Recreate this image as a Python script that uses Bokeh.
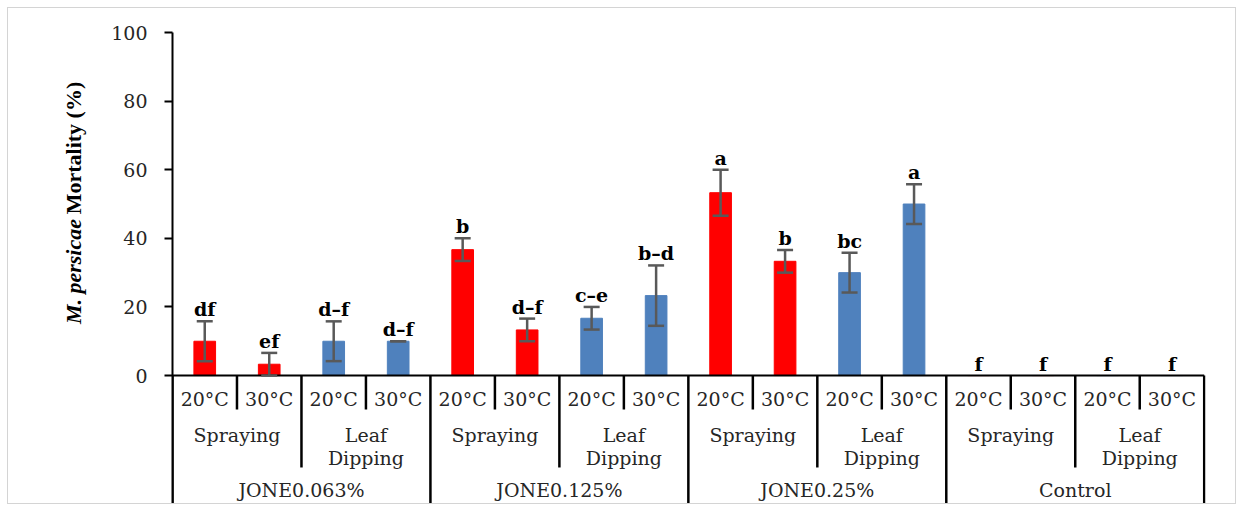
import math
from bokeh.plotting import figure
from bokeh.layouts import row
from bokeh.models import Range1d, FixedTicker, ColumnDataSource, Whisker, TeeHead
from bokeh.core.properties import value
from bokeh.embed import file_html
from bokeh.resources import INLINE

# ---- data ----
concentrations = ["JONE0.063%", "JONE0.125%", "JONE0.25%", "Control"]
methods = ["Spraying", "Leaf\nDipping"]
temperatures = ["20°C", "30°C"]
mortality = [10.0, 3.3, 10.0, 10.0,
             36.7, 13.3, 16.7, 23.3,
             53.3, 33.3, 30.0, 50.0,
             0.0, 0.0, 0.0, 0.0]
std_err = [5.8, 3.3, 5.8, 0.0,
           3.3, 3.3, 3.3, 8.8,
           6.7, 3.3, 5.8, 5.8,
           0.0, 0.0, 0.0, 0.0]
letters = ["df", "ef", "d–f", "d–f",
           "b", "d–f", "c–e", "b–d",
           "a", "b", "bc", "a",
           "f", "f", "f", "f"]
y_title_italic = "M. persicae"
y_title_rest = "Mortality (%)"
method_colors = {"Spraying": "#FF0000", "Leaf\nDipping": "#4F81BD"}
y_ticks = [0, 20, 40, 60, 80, 100]

# ---- derived positions ----
n_t = len(temperatures)
n_m = len(methods)
n_c = len(concentrations)
n = n_t * n_m * n_c
xs, colors = [], []
for ci in range(n_c):
    for mi in range(n_m):
        for ti in range(n_t):
            xs.append(ci * n_m * n_t + mi * n_t + ti + 0.5)
            colors.append(method_colors[methods[mi]])
tops = [m + e for m, e in zip(mortality, std_err)]

Y_MIN = -37.3
H = 495
TOP = 24
yr = Range1d(Y_MIN, 100)

# ---- left strip holding the y-axis title ----
LW = 90
left = figure(width=LW, height=H, output_backend="svg", toolbar_location=None,
              x_range=Range1d(0, LW), y_range=yr,
              x_axis_location=None, y_axis_location=None,
              min_border_left=0, min_border_right=0,
              min_border_top=TOP, min_border_bottom=0)
left.outline_line_color = None
left.xgrid.visible = False
left.ygrid.visible = False
left.text(x=[65], y=[15.0], text=[y_title_italic], angle=math.pi / 2,
          text_font=value("Liberation Serif"), text_font_style="bold italic",
          text_font_size="22px", text_align="left", text_baseline="middle",
          text_color="black")
left.text(x=[65], y=[47.0], text=[y_title_rest], angle=math.pi / 2,
          text_font=value("Liberation Serif"), text_font_style="bold",
          text_font_size="22px", text_align="left", text_baseline="middle",
          text_color="black")

# ---- main chart ----
p = figure(width=1227 - LW, height=H, output_backend="svg", toolbar_location=None,
           x_range=Range1d(0, n + 0.02), y_range=yr,
           x_axis_location=None, min_border_left=74, min_border_right=30,
           min_border_top=TOP, min_border_bottom=0)
p.outline_line_color = None
p.xgrid.visible = False
p.ygrid.visible = False

ya = p.yaxis[0]
ya.ticker = FixedTicker(ticks=y_ticks)
ya.axis_line_width = 2
ya.axis_line_color = "black"
ya.major_tick_line_width = 2
ya.major_tick_line_color = "black"
ya.major_tick_in = 0
ya.major_tick_out = 8
ya.minor_tick_line_color = None
ya.major_label_text_font = "DejaVu Serif"
ya.major_label_text_font_size = "19px"
ya.major_label_text_color = "#262626"
ya.major_label_standoff = 17

src = ColumnDataSource(dict(x=xs, top=mortality, color=colors, err_top=tops,
                            letter=letters))
p.vbar(x="x", top="top", bottom=0, width=0.336, color="color", source=src)

idx = [i for i in range(n) if mortality[i] > 0]
wsrc = ColumnDataSource(dict(x=[xs[i] for i in idx],
                             upper=[tops[i] for i in idx],
                             lower=[mortality[i] - std_err[i] for i in idx]))
wk = Whisker(base="x", upper="upper", lower="lower", source=wsrc, level="overlay",
             line_color="#595959", line_width=2.5,
             upper_head=TeeHead(size=16, line_color="#595959", line_width=2.5),
             lower_head=TeeHead(size=16, line_color="#595959", line_width=2.5))
p.add_layout(wk)

p.text(x="x", y="err_top", text="letter", source=src, y_offset=-12,
       text_font=value("DejaVu Serif"), text_font_style="bold",
       text_font_size="19px", text_align="center", text_baseline="alphabetic",
       text_color="black")

# x baseline
p.segment(x0=[0], y0=[0], x1=[n], y1=[0], line_color="black", line_width=2,
          level="overlay")

# separators of the nested category table
T_DEPTH, M_DEPTH = -9.9, -26.8
sx, sy1 = [], []
for k in range(n + 1):
    if k % (n_t * n_m) == 0:
        d = Y_MIN
    elif k % n_t == 0:
        d = M_DEPTH
    else:
        d = T_DEPTH
    sx.append(k)
    sy1.append(d)
p.segment(x0=sx, y0=[0] * len(sx), x1=sx, y1=sy1, line_color="black", line_width=2.5)

lab_font = value("DejaVu Serif")
t_src = ColumnDataSource(dict(x=xs, y=[-6.7] * n,
                              t=[temperatures[i % n_t] for i in range(n)]))
p.text(x="x", y="y", text="t", source=t_src, text_font=lab_font,
       text_font_size="19px", text_align="center", text_baseline="middle",
       text_color="#262626")

m_x, m_t = [], []
for ci in range(n_c):
    for mi in range(n_m):
        m_x.append(ci * n_m * n_t + mi * n_t + n_t / 2)
        m_t.append(methods[mi])
m_src = ColumnDataSource(dict(x=m_x, y=[-14.0] * len(m_x), t=m_t))
p.text(x="x", y="y", text="t", source=m_src, text_font=lab_font,
       text_font_size="19px", text_align="center", text_baseline="top",
       text_line_height=1.05, text_color="#262626")

c_src = ColumnDataSource(dict(x=[ci * n_m * n_t + n_m * n_t / 2 for ci in range(n_c)],
                              y=[-33.4] * n_c, t=concentrations))
p.text(x="x", y="y", text="t", source=c_src, text_font=lab_font,
       text_font_size="19px", text_align="center", text_baseline="middle",
       text_color="#262626")

layout = row(left, p, spacing=0, margin=(7, 0, 0, 7),
             styles={"border": "1px solid #d4d4d4"})

open("out.html", "w").write(file_html(layout, INLINE))
